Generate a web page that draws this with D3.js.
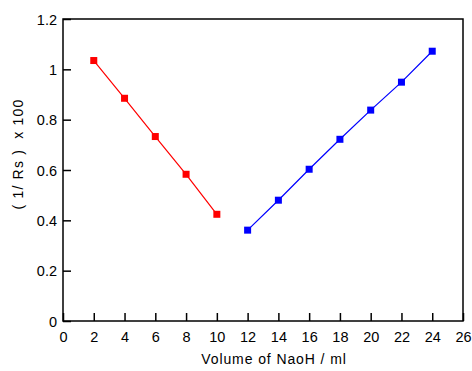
<!DOCTYPE html>
<html>
<head>
<meta charset="utf-8">
<script src="https://cdn.jsdelivr.net/npm/d3@7"></script>
<style>
  body { margin: 0; background: #fff; }
  text { font-family: Arial, "Liberation Sans", sans-serif; fill: #000; }
</style>
</head>
<body>
<div id="container"></div>
<script>
// Data ---------- ---------- ----------
let redX = [2, 4, 6, 8, 10];
let redY = [1.035, 0.885, 0.733, 0.583, 0.424];
let blueX = [12, 14, 16, 18, 20, 22, 24];
let blueY = [0.361, 0.480, 0.603, 0.722, 0.838, 0.949, 1.072];
let xTicks = d3.range(0, 27, 2);
let yTicks = [0, 0.2, 0.4, 0.6, 0.8, 1, 1.2];

// Layout ---------- ---------- ----------
let W = 472, H = 371;
let pL = 63, pR = 463, pT = 19, pB = 321;

let svg = d3.select("#container").append("svg").attr("width", W).attr("height", H);

let x = d3.scaleLinear().domain([0, 26]).range([pL, pR]);
let y = d3.scaleLinear().domain([0, 1.2]).range([pB, pT]);

// Frame
svg.append("rect").attr("x", pL).attr("y", pT)
  .attr("width", pR - pL).attr("height", pB - pT)
  .attr("fill", "none").attr("stroke", "#000").attr("stroke-width", 1.5);

// X axis (ticks inward)
let gx = svg.append("g").attr("transform", "translate(0," + pB + ")")
  .call(d3.axisTop(x).tickValues(xTicks).tickSize(8).tickFormat(d3.format("d")));
gx.select(".domain").remove();
gx.selectAll("line").attr("stroke", "#000").attr("stroke-width", 1.5);
gx.selectAll("text").attr("y", 21).attr("dy", 0).attr("font-size", "14.5px");

// Y axis (ticks inward)
let gy = svg.append("g").attr("transform", "translate(" + pL + ",0)")
  .call(d3.axisRight(y).tickValues(yTicks).tickSize(8).tickFormat(d => String(+d.toFixed(1))));
gy.select(".domain").remove();
gy.selectAll("line").attr("stroke", "#000").attr("stroke-width", 1.5);
gy.selectAll("text").attr("x", -6).attr("text-anchor", "end").attr("dy", "0.36em").attr("font-size", "14.5px");

// Axis titles
svg.append("text").attr("x", (pL + pR) / 2 + 11).attr("y", 364)
  .attr("text-anchor", "middle").attr("font-size", "14px").attr("letter-spacing", "0.9px")
  .text("Volume of NaoH / ml");
svg.append("text").attr("transform", "translate(23,154) rotate(-90)")
  .attr("text-anchor", "middle").attr("font-size", "14px").attr("letter-spacing", "1.2px")
  .attr("xml:space", "preserve")
  .text("( 1/ Rs )  x 100");

// Series ---------- ---------- ----------
function series(xs, ys, color) {
  let pts = xs.map((d, i) => [d, ys[i]]);
  svg.append("path").datum(pts)
    .attr("fill", "none").attr("stroke", color).attr("stroke-width", 1.2)
    .attr("d", d3.line().x(d => x(d[0])).y(d => y(d[1])));
  svg.selectAll(null).data(pts).enter().append("rect")
    .attr("x", d => x(d[0]) - 3.5).attr("y", d => y(d[1]) - 3.5)
    .attr("width", 7).attr("height", 7).attr("fill", color);
}
series(redX, redY, "#ff0000");
series(blueX, blueY, "#0000ff");
</script>
</body>
</html>
